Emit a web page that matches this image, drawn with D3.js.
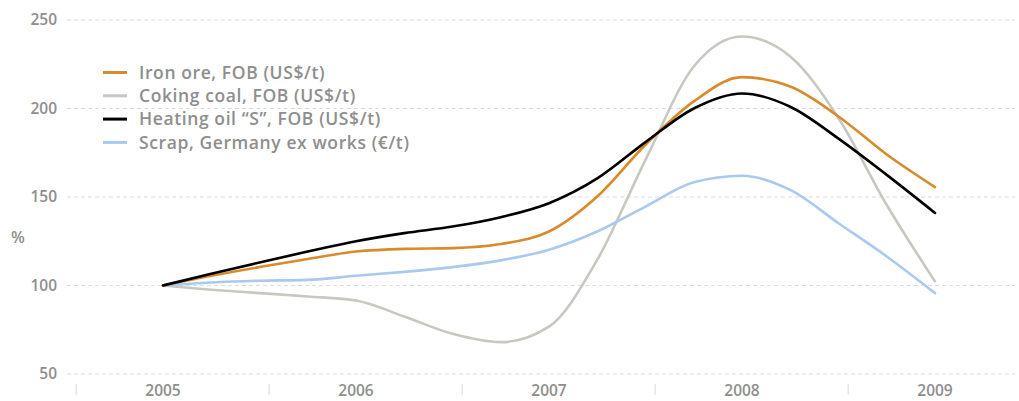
<!DOCTYPE html>
<html>
<head>
<meta charset="utf-8">
<script src="https://cdn.jsdelivr.net/npm/d3@7"></script>
<style>
  body { margin: 0; background: #fff; }
  text { font-family: "Open Sans", "Noto Sans", sans-serif; fill: #8e8e8e; font-weight: 600; }
</style>
</head>
<body>
<div id="chart"></div>
<script>
// quarterly points, 2005 Q1 = 100
var quarters = d3.range(0, 17).map(function(k) { return 2005 + k / 4; });
var years = [2005, 2006, 2007, 2008, 2009];
var yTicks = [50, 100, 150, 200, 250];

var ironOre    = [100, 105.5, 110.4, 115, 119.2, 120.7, 121.1, 123.4, 130.5, 150.3, 179.5, 204, 217.7, 212.4, 195.5, 174, 155.6];
var cokingCoal = [100, 97.6, 95.7, 93.8, 91.5, 82.5, 72.7, 68, 76.8, 114.5, 171, 223.7, 240.7, 229.4, 194.5, 145.5, 102.3];
var heatingOil = [100, 106.6, 113, 119.2, 125, 129.6, 133.3, 138.6, 146.5, 160.5, 181, 200, 208.5, 201, 183, 162.5, 141];
var scrap      = [100, 101.7, 102.7, 103.2, 105.5, 107.7, 110.4, 114.2, 120.2, 130.5, 144.6, 158.3, 162, 154, 135.2, 116.4, 95.7];

var seriesNames = ["Iron ore, FOB (US$/t)", "Coking coal, FOB (US$/t)", "Heating oil \u201cS\u201d, FOB (US$/t)", "Scrap, Germany ex works (\u20ac/t)"];
var seriesColors = ["#d98a2a", "#c8c8c1", "#000000", "#a9c9ee"];
var seriesValues = [ironOre, cokingCoal, heatingOil, scrap];

var width = 1019, height = 401;

var svg = d3.select("#chart").append("svg")
  .attr("width", width)
  .attr("height", height);

var x = d3.scaleLinear().domain([2005, 2009]).range([163, 935]);
var y = d3.scaleLinear().domain([50, 250]).range([374, 20]);

// gridlines
svg.append("g")
  .selectAll("line")
  .data(yTicks)
  .enter().append("line")
    .attr("x1", 67)
    .attr("x2", 1015)
    .attr("y1", function(d) { return y(d); })
    .attr("y2", function(d) { return y(d); })
    .attr("stroke", "#dcdcdc")
    .attr("stroke-width", 1)
    .attr("stroke-dasharray", "4,3");

// y labels
svg.append("g")
  .selectAll("text")
  .data(yTicks)
  .enter().append("text")
    .attr("x", 57)
    .attr("y", function(d) { return y(d); })
    .attr("dy", "0.35em")
    .attr("text-anchor", "end")
    .style("font-size", "15.5px")
    .text(function(d) { return d; });

svg.append("text")
  .attr("x", 18)
  .attr("y", 237)
  .attr("dy", "0.35em")
  .attr("text-anchor", "middle")
  .style("font-size", "16px")
  .text("%");

// year separators and labels
var sep = d3.range(0, 5).map(function(i) { return 2004.55 + i; });
svg.append("g")
  .selectAll("line")
  .data(sep)
  .enter().append("line")
    .attr("x1", function(d) { return x(d); })
    .attr("x2", function(d) { return x(d); })
    .attr("y1", 384)
    .attr("y2", 395)
    .attr("stroke", "#d8d8d8")
    .attr("stroke-width", 1);

svg.append("g")
  .selectAll("text")
  .data(years)
  .enter().append("text")
    .attr("x", function(d) { return x(d); })
    .attr("y", 396)
    .attr("text-anchor", "middle")
    .style("font-size", "15.5px")
    .text(function(d) { return d; });

// lines
var line = d3.line()
  .x(function(d) { return x(d[0]); })
  .y(function(d) { return y(d[1]); })
  .curve(d3.curveMonotoneX);

var order = [1, 3, 0, 2];
svg.append("g")
  .selectAll("path")
  .data(order)
  .enter().append("path")
    .attr("fill", "none")
    .attr("stroke", function(i) { return seriesColors[i]; })
    .attr("stroke-width", 2.6)
    .attr("stroke-linecap", "round")
    .attr("d", function(i) {
      return line(quarters.map(function(q, k) { return [q, seriesValues[i][k]]; }));
    });

// legend
var legend = svg.append("g")
  .selectAll("g")
  .data(seriesNames)
  .enter().append("g")
    .attr("transform", function(d, i) { return "translate(103," + (72.5 + i * 23.3) + ")"; });

legend.append("line")
  .attr("x1", 0)
  .attr("x2", 24)
  .attr("stroke", function(d, i) { return seriesColors[i]; })
  .attr("stroke-width", 3);

legend.append("text")
  .attr("x", 36)
  .attr("dy", "0.35em")
  .style("font-size", "17.5px")
  .style("letter-spacing", "0.6px")
  .text(function(d) { return d; });
</script>
</body>
</html>
